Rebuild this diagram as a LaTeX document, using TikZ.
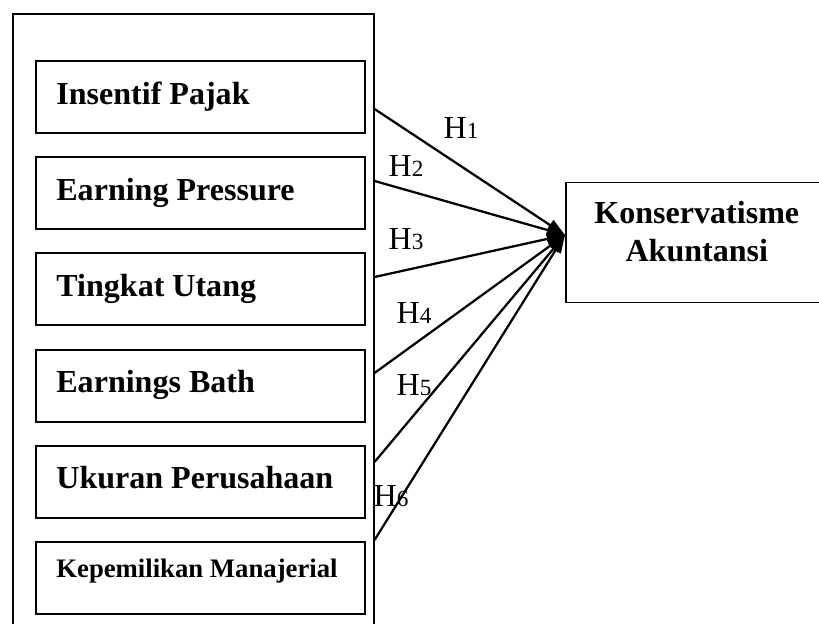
\documentclass[tikz,border=0pt]{standalone}
\usepackage{fontspec}
\setmainfont{Liberation Serif}
\usetikzlibrary{arrows.meta, positioning}
\tikzset{
  frame/.style={draw, line width=1.1pt, inner sep=0pt, anchor=north west},
  varbox/.style={draw, line width=1.3pt, minimum width=8.225cm, minimum height=1.8cm},
  vartext/.style={anchor=base west, inner sep=0pt,
                  font=\bfseries\fontsize{22.8}{27}\selectfont},
  depbox/.style={draw, line width=1.3pt, minimum width=6.6cm, minimum height=3cm,
                 anchor=north west},
  hyp/.style={font=\fontsize{22.8}{27}\selectfont, inner sep=0pt},
  link/.style={-{Triangle[length=0.45cm, width=0.3cm]}, line width=1.6pt},
}
\newcommand{\hnum}[1]{H{\fontsize{16.5}{20}\selectfont #1}}

\begin{document}
\begin{tikzpicture}
  \useasboundingbox (0,0) rectangle (20.475,-15.6);

  % ---------- independent variables ----------
  \node[frame, minimum width=9.025cm, minimum height=16cm] (outer) at (0.3,-0.333) {};
  \node[varbox] (pajak) at (5.0125,-2.425) {};
  \node[varbox] (pressure) at (5.0125,-4.825) {};
  \node[varbox] (utang) at (5.0125,-7.225) {};
  \node[varbox] (bath) at (5.0125,-9.65) {};
  \node[varbox] (ukuran) at (5.0125,-12.05) {};
  \node[varbox] (manajerial) at (5.0125,-14.45) {};

  \node[vartext] (pajaktxt) at ([shift={(0.525,-1.1)}]pajak.north west) {Insentif Pajak};
  \node[vartext] (pressuretxt) at ([shift={(0.525,-1.12)}]pressure.north west) {Earning Pressure};
  \node[vartext] (utangtxt) at ([shift={(0.525,-1.12)}]utang.north west) {Tingkat Utang};
  \node[vartext] (bathtxt) at ([shift={(0.525,-1.09)}]bath.north west) {Earnings Bath};
  \node[vartext] (ukurantxt) at ([shift={(0.525,-1.09)}]ukuran.north west) {Ukuran Perusahaan};
  \node[vartext, font=\bfseries\fontsize{19}{23}\selectfont] (manajerialtxt)
    at ([shift={(0.525,-0.9)}]manajerial.north west) {Kepemilikan Manajerial};

  % ---------- dependent variable ----------
  \node[depbox] (konserv) at (14.125,-4.54) {};
  \node[font=\bfseries\fontsize{22.8}{27}\selectfont, align=center] (konservtxt)
    at (17.42,-5.8) {Konservatisme\\Akuntansi};

  % ---------- hypotheses ----------
  \coordinate (tgt) at (konserv.west |- 0,-5.875);
  \foreach \y [count=\i] in {-2.725,-4.525,-6.925,-9.325,-11.55,-13.5}
    \coordinate (s\i) at (outer.east |- 0,\y);
  \foreach \i in {1,...,6}
    \draw[link] (s\i) -- (tgt);

  \node[hyp] (h1) at (11.525,-3.2) {\hnum{1}};
  \node[hyp] (h2) at (10.15,-4.15) {\hnum{2}};
  \node[hyp] (h3) at (10.15,-5.975) {\hnum{3}};
  \node[hyp] (h4) at (10.35,-7.825) {\hnum{4}};
  \node[hyp] (h5) at (10.35,-9.625) {\hnum{5}};
  \node[hyp] (h6) at (9.775,-12.4) {\hnum{6}};

\end{tikzpicture}
\end{document}
